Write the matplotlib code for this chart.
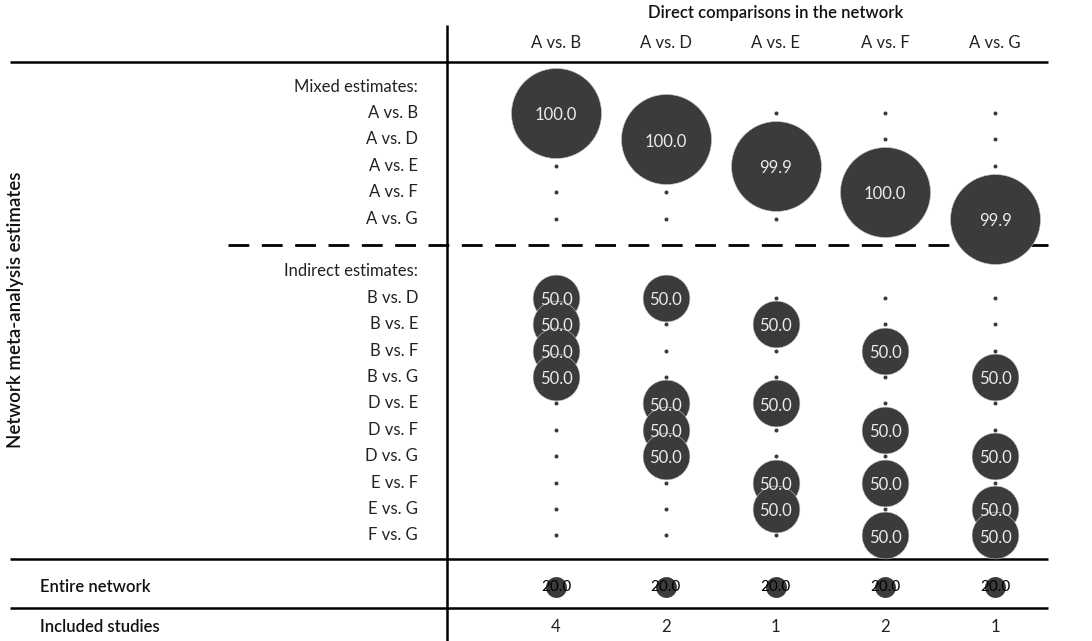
import matplotlib
matplotlib.use("Agg")
import matplotlib.pyplot as plt

plt.rcParams["font.family"] = ["Lato", "DejaVu Sans"]

# Direct comparisons (columns) and network estimates (rows)
direct_comparisons = ["A vs. B", "A vs. D", "A vs. E", "A vs. F", "A vs. G"]
mixed_rows = ["A vs. B", "A vs. D", "A vs. E", "A vs. F", "A vs. G"]
indirect_rows = ["B vs. D", "B vs. E", "B vs. F", "B vs. G", "D vs. E",
                 "D vs. F", "D vs. G", "E vs. F", "E vs. G", "F vs. G"]

# Percentage contribution of each direct comparison to each estimate
mixed_contrib = [
    [100.0, 0, 0, 0, 0],
    [0, 100.0, 0, 0, 0],
    [0, 0, 99.9, 0, 0],
    [0, 0, 0, 100.0, 0],
    [0, 0, 0, 0, 99.9],
]
indirect_contrib = [
    [50.0, 50.0, 0, 0, 0],
    [50.0, 0, 50.0, 0, 0],
    [50.0, 0, 0, 50.0, 0],
    [50.0, 0, 0, 0, 50.0],
    [0, 50.0, 50.0, 0, 0],
    [0, 50.0, 0, 50.0, 0],
    [0, 50.0, 0, 0, 50.0],
    [0, 0, 50.0, 50.0, 0],
    [0, 0, 50.0, 0, 50.0],
    [0, 0, 0, 50.0, 50.0],
]
entire_network = [20.0, 20.0, 20.0, 20.0, 20.0]
included_studies = [4, 2, 1, 2, 1]

BUBBLE = "#3b3b3b"
FS = 12

fig = plt.figure(figsize=(10.92, 6.41), dpi=100)
ax = fig.add_axes([0, 0, 1, 1])
ax.set_axis_off()

# column index -> x, row slot -> y (slots are evenly spaced)
X0, DX = 556.0, 109.75
Y0, DY = 113.0, 26.4
ax.set_xlim((0 - X0) / DX, (1092 - X0) / DX)
ax.set_ylim((641 - Y0) / DY, (0 - Y0) / DY)


def px_x(p):
    return (p - X0) / DX


def px_y(p):
    return (p - Y0) / DY


def size_for(v):
    # bubble radius in pixels grows linearly with the contribution
    r = 2.0 if v == 0 else 1.8 + 0.432 * v
    return (2 * r * 0.72) ** 2


mixed_slots = list(range(0, 5))
indirect_slots = list(range(7, 17))
network_slot = px_y(587)
studies_slot = px_y(627)

label_x = px_x(418)

# Section headers and row labels
ax.text(label_x, -1, "Mixed estimates:", ha="right", va="center", fontsize=FS, color="#222222")
for s, lab in zip(mixed_slots, mixed_rows):
    ax.text(label_x, s, lab, ha="right", va="center", fontsize=FS, color="#222222")
ax.text(label_x, 6, "Indirect estimates:", ha="right", va="center", fontsize=FS, color="#222222")
for s, lab in zip(indirect_slots, indirect_rows):
    ax.text(label_x, s, lab, ha="right", va="center", fontsize=FS, color="#222222")

ax.text(px_x(40), network_slot, "Entire network", ha="left", va="center",
        fontsize=FS, fontweight="semibold", color="#111111")
ax.text(px_x(40), studies_slot, "Included studies", ha="left", va="center",
        fontsize=FS, fontweight="semibold", color="#111111")

ax.text(px_x(16), px_y(310), "Network meta-analysis estimates", rotation=90,
        ha="center", va="center", fontsize=13.5, fontweight="semibold", color="#111111")

# Column headers
ax.text((len(direct_comparisons) - 1) / 2, px_y(13), "Direct comparisons in the network",
        ha="center", va="center", fontsize=FS, fontweight="semibold", color="#111111")
for j, lab in enumerate(direct_comparisons):
    ax.text(j, px_y(43), lab, ha="center", va="center", fontsize=FS, color="#222222")

# Table rules
ax.plot([px_x(10), px_x(1048)], [px_y(62)] * 2, color="black", lw=1.8, solid_capstyle="butt")
ax.plot([px_x(10), px_x(1048)], [px_y(559)] * 2, color="black", lw=1.8, solid_capstyle="butt")
ax.plot([px_x(10), px_x(1048)], [px_y(608)] * 2, color="black", lw=1.8, solid_capstyle="butt")
ax.plot([px_x(447)] * 2, [px_y(25), px_y(641)], color="black", lw=1.8, solid_capstyle="butt")
ax.plot([px_x(228), px_x(1048)], [5, 5], color="black", lw=2.0,
        linestyle=(0, (7.5, 4.5)), zorder=1)

# Bubbles: zero contributions as small dots, others scaled by value
for slots, matrix in ((mixed_slots, mixed_contrib), (indirect_slots, indirect_contrib)):
    for s, row in zip(slots, matrix):
        for j, v in enumerate(row):
            if v == 0:
                ax.scatter(j, s, s=size_for(0), color=BUBBLE, linewidths=0, zorder=2)
for slots, matrix in ((mixed_slots, mixed_contrib), (indirect_slots, indirect_contrib)):
    for s, row in zip(slots, matrix):
        for j, v in enumerate(row):
            if v > 0:
                ax.scatter(j, s, s=size_for(v), color=BUBBLE, edgecolors="#c4c4c4",
                           linewidths=0.4, zorder=3)
                ax.text(j, s + 0.08, f"{v:.1f}", ha="center", va="center", fontsize=FS,
                        color="#ececec", zorder=5)

for j, v in enumerate(entire_network):
    ax.scatter(j, network_slot, s=size_for(v), color=BUBBLE, linewidths=0, zorder=3)
    ax.text(j, network_slot, f"{v:.1f}", ha="center", va="center", fontsize=FS - 1,
            color="black", zorder=5)

for j, n in enumerate(included_studies):
    ax.text(j, studies_slot, str(n), ha="center", va="center", fontsize=FS, color="#222222")

fig.savefig("out.png", dpi=100)
